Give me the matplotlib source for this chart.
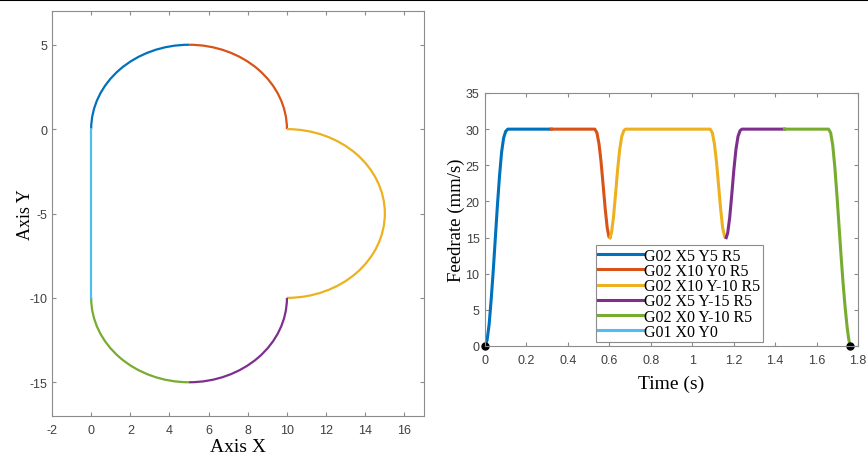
import matplotlib.pyplot as plt
from matplotlib.patches import Arc
from matplotlib.lines import Line2D

plt.rcParams['axes.unicode_minus'] = False

# MATLAB default colours
colors = ['#0072BD', '#D95319', '#EDB120', '#7E2F8E', '#77AC30', '#4DBEEE']
labels = ['G02 X5 Y5 R5', 'G02 X10 Y0 R5', 'G02 X10 Y-10 R5',
          'G02 X5 Y-15 R5', 'G02 X0 Y-10 R5', 'G01 X0 Y0']

# toolpath: arcs (center x, center y, radius, start angle, end angle)
arc_cx = [5, 5, 10, 5, 5]
arc_cy = [0, 0, -5, -10, -10]
arc_r = [5, 5, 5, 5, 5]
arc_t1 = [90, 0, -90, -90, 180]
arc_t2 = [180, 90, 90, 0, 270]
# straight segment G01
line_x = [0, 0]
line_y = [-10, 0]

# feedrate profile, one list per block
t_blue = [0, 0.01, 0.02, 0.03, 0.04, 0.05, 0.06, 0.07, 0.08, 0.09, 0.10, 0.11, 0.32]
f_blue = [0, 0.8, 3, 6.5, 10.5, 15, 19.5, 23.5, 26.8, 28.8, 29.7, 30, 30]
t_red = [0.32, 0.53, 0.54, 0.55, 0.56, 0.57, 0.58, 0.59, 0.598, 0.603]
f_red = [30, 30, 29.5, 28, 25.5, 22.3, 19, 16.3, 15.1, 15]
t_yel = [0.603, 0.61, 0.62, 0.63, 0.64, 0.65, 0.66, 0.67, 0.678,
         1.087, 1.097, 1.107, 1.117, 1.127, 1.137, 1.147, 1.157, 1.164]
f_yel = [15, 15.6, 17.8, 21, 24.4, 27.2, 29, 29.8, 30,
         30, 29.5, 28, 25.5, 22.3, 19, 16.3, 15.1, 15]
t_pur = [1.164, 1.171, 1.181, 1.191, 1.201, 1.211, 1.221, 1.231, 1.24, 1.445]
f_pur = [15, 15.6, 17.8, 21, 24.4, 27.2, 29, 29.8, 30, 30]
t_grn = [1.445, 1.658, 1.668, 1.678, 1.688, 1.698, 1.708, 1.718, 1.728,
         1.738, 1.748, 1.755, 1.762]
f_grn = [30, 30, 29.5, 27.8, 24.8, 21, 16.8, 12.6, 8.7, 5.3, 2.5, 1, 0]
t_g01 = [1.762, 1.762]
f_g01 = [0, 0]
t_dots = [0, 1.762]
f_dots = [0, 0]

tick_font = 'Liberation Sans'
label_font = 'Liberation Serif'
edge = '#8c8c8c'
tick_col = '#404040'

fig = plt.figure(figsize=(8.68, 4.64), dpi=100)
fig.add_artist(Line2D([0, 1], [0.998, 0.998], color='black', lw=1.5))


def matlab_style(ax, xpad, ypad):
    for s in ax.spines.values():
        s.set_color(edge)
        s.set_linewidth(0.8)
    ax.tick_params(direction='in', top=True, right=True, length=3,
                   color=edge, labelcolor=tick_col, labelsize=9)
    ax.tick_params(axis='x', pad=xpad)
    ax.tick_params(axis='y', pad=ypad)
    for lab in ax.get_xticklabels() + ax.get_yticklabels():
        lab.set_fontfamily(tick_font)


# --- left: toolpath ---
ax1 = fig.add_axes([52 / 868, 1 - 417 / 464, 372 / 868, 405 / 464])
for i in range(5):
    ax1.add_patch(Arc((arc_cx[i], arc_cy[i]), 2 * arc_r[i], 2 * arc_r[i],
                      theta1=arc_t1[i], theta2=arc_t2[i],
                      color=colors[i], lw=1.6))
ax1.plot(line_x, line_y, color=colors[5], lw=1.6)
ax1.set_xlim(-2, 17)
ax1.set_ylim(-17, 7)
ax1.set_xticks(range(-2, 17, 2))
ax1.set_yticks([-15, -10, -5, 0, 5])
matlab_style(ax1, 6, 3)
ax1.set_xlabel('Axis X', fontfamily=label_font, fontsize=14, labelpad=1)
ax1.set_ylabel('Axis Y', fontfamily=label_font, fontsize=13, labelpad=-3)

# --- right: feedrate ---
ax2 = fig.add_axes([485 / 868, 1 - 347 / 464, 373 / 868, 253 / 464])
ts = [t_blue, t_red, t_yel, t_pur, t_grn, t_g01]
fs = [f_blue, f_red, f_yel, f_pur, f_grn, f_g01]
for t, f, c, lab in zip(ts, fs, colors, labels):
    ax2.plot(t, f, color=c, lw=2.2, label=lab)
ax2.plot(t_dots, f_dots, 'o', color='black', ms=5, clip_on=False)
ax2.set_xlim(0, 1.8)
ax2.set_ylim(0, 35)
ax2.set_xticks([0, 0.2, 0.4, 0.6, 0.8, 1, 1.2, 1.4, 1.6, 1.8])
ax2.set_xticklabels(['0', '0.2', '0.4', '0.6', '0.8', '1', '1.2', '1.4', '1.6', '1.8'])
ax2.set_yticks(range(0, 36, 5))
matlab_style(ax2, 6, 4)
ax2.set_xlabel('Time (s)', fontfamily=label_font, fontsize=14, labelpad=6)
ax2.set_ylabel('Feedrate (mm/s)', fontfamily=label_font, fontsize=13.5, labelpad=0)

leg = ax2.legend(loc='lower left', bbox_to_anchor=(0.297, 0.015),
                 prop={'family': label_font, 'size': 11.5},
                 fancybox=False, framealpha=1, edgecolor=edge,
                 handlelength=2.8, handletextpad=0.1, labelspacing=-0.05,
                 borderpad=0.15, borderaxespad=0)
leg.get_frame().set_linewidth(0.8)

fig.savefig('out.png', dpi=100)
